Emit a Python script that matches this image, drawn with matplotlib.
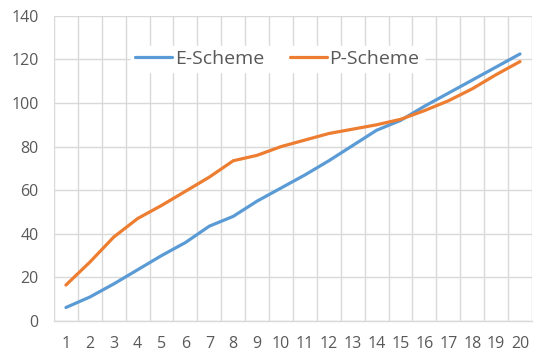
import matplotlib
matplotlib.use("Agg")
import matplotlib.pyplot as plt
from matplotlib.ticker import FixedLocator

plt.rcParams['font.family'] = ['Open Sans', 'DejaVu Sans']

rounds = list(range(1, 21))
e_scheme = [6.2, 11, 17, 23.5, 30, 36, 43.5, 48, 55, 61,
            67, 73.5, 80.5, 87.5, 92, 98.5, 104.5, 110.5, 116.5, 122.5]
p_scheme = [16.5, 27, 38.5, 47, 53, 59.5, 66, 73.5, 76, 80,
            83, 86, 88, 90, 92.5, 96.5, 101, 106.5, 113, 119]
y_ticks = [0, 20, 40, 60, 80, 100, 120, 140]

grid_c = '#d9d9d9'
text_c = '#595959'

fig = plt.figure(figsize=(5.36, 3.57), dpi=100)
ax = fig.add_axes([0.1007, 0.1008, 0.8918, 0.855])

ax.plot(rounds, e_scheme, color='#5b9bd5', lw=2.3, label='E-Scheme',
        solid_capstyle='round', solid_joinstyle='round')
ax.plot(rounds, p_scheme, color='#ed7d31', lw=2.3, label='P-Scheme',
        solid_capstyle='round', solid_joinstyle='round')

ax.set_xlim(0.5, 20.5)
ax.set_ylim(0, 140)
ax.set_xticks(rounds)
ax.set_xticklabels([str(r) for r in rounds])
ax.xaxis.set_minor_locator(FixedLocator([r + 0.5 for r in range(0, 21)]))
ax.set_yticks(y_ticks)

ax.grid(True, which='minor', axis='x', color=grid_c, lw=1)
ax.grid(True, which='major', axis='y', color=grid_c, lw=1)
ax.set_axisbelow(True)

for s in ['top', 'right', 'left']:
    ax.spines[s].set_visible(False)
ax.spines['bottom'].set_color(grid_c)
ax.spines['bottom'].set_linewidth(1)

ax.tick_params(axis='both', which='both', length=0, labelsize=11.5,
               labelcolor=text_c)
ax.tick_params(axis='x', pad=11)
ax.tick_params(axis='y', pad=11)

leg = ax.legend(loc='center', bbox_to_anchor=(0.4676, 0.858), ncol=2,
                frameon=True, fancybox=False, framealpha=1,
                edgecolor='white', facecolor='white', fontsize=14,
                handlelength=1.9, handletextpad=0.15, columnspacing=1.3,
                borderpad=0.2)
for t in leg.get_texts():
    t.set_color(text_c)

fig.savefig('out.png', dpi=100)
